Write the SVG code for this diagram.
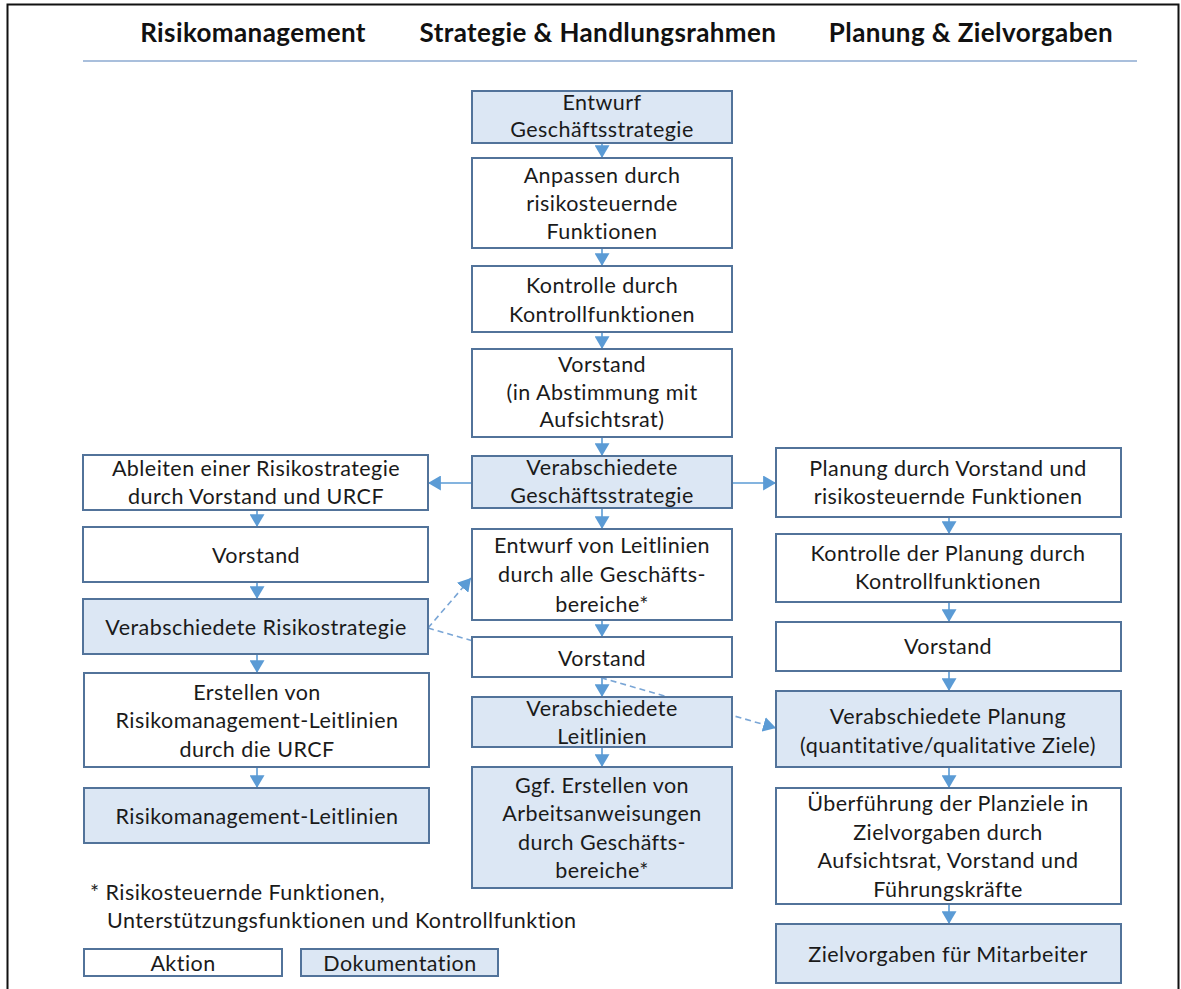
<svg xmlns="http://www.w3.org/2000/svg" width="1181" height="989" viewBox="0 0 1181 989" xml:space="preserve">
  <style>
    .box { stroke: #52739a; stroke-width: 2; }
    .act { fill: #ffffff; }
    .doc { fill: #dce7f4; }
    text { font-family: Lato, "Liberation Sans", sans-serif; font-size: 21.5px; letter-spacing: 0.45px; fill: #1a1a1a; text-anchor: middle; }
    .head { font-weight: bold; font-size: 26px; letter-spacing: 0.4px; fill: #111111; }
    .note { text-anchor: start; }
    .flow { stroke: #5b9bd5; stroke-width: 1.6; fill: none; }
    .dash { stroke: #7aa6d6; stroke-width: 1.6; stroke-dasharray: 6 4; fill: none; }
  </style>
  <defs>
    <marker id="tri" viewBox="0 0 12 14" refX="12" refY="7" markerWidth="13" markerHeight="15" markerUnits="userSpaceOnUse" orient="auto">
      <path d="M0,0 L12,7 L0,14 z" fill="#5b9bd5"/>
    </marker>
  </defs>

  <rect width="1181" height="989" fill="#ffffff"/>
  <!-- outer frame (open at the bottom) -->
  <path d="M7.5,989 V4.5 H1178.5 V989" fill="none" stroke="#111111" stroke-width="2"/>

  <!-- column headings -->
  <g id="headings">
    <text class="head" x="253" y="42">Risikomanagement</text>
    <text class="head" x="598" y="42">Strategie &amp; Handlungsrahmen</text>
    <text class="head" x="971" y="42">Planung &amp; Zielvorgaben</text>
    <line x1="83" y1="61" x2="1137" y2="61" stroke="#a9bfdc" stroke-width="2"/>
  </g>

  <!-- connectors (drawn under the boxes) -->
  <g id="connectors">
    <!-- centre column -->
    <line class="flow" x1="602" y1="143" x2="602" y2="158" marker-end="url(#tri)"/>
    <line class="flow" x1="602" y1="248" x2="602" y2="266" marker-end="url(#tri)"/>
    <line class="flow" x1="602" y1="332" x2="602" y2="349" marker-end="url(#tri)"/>
    <line class="flow" x1="602" y1="437" x2="602" y2="456" marker-end="url(#tri)"/>
    <line class="flow" x1="602" y1="508" x2="602" y2="529" marker-end="url(#tri)"/>
    <line class="flow" x1="602" y1="620" x2="602" y2="637" marker-end="url(#tri)"/>
    <line class="flow" x1="602" y1="677" x2="602" y2="697" marker-end="url(#tri)"/>
    <line class="flow" x1="602" y1="747" x2="602" y2="767" marker-end="url(#tri)"/>
    <!-- left column -->
    <line class="flow" x1="257" y1="510" x2="257" y2="527" marker-end="url(#tri)"/>
    <line class="flow" x1="257" y1="582" x2="257" y2="599" marker-end="url(#tri)"/>
    <line class="flow" x1="257" y1="654" x2="257" y2="673" marker-end="url(#tri)"/>
    <line class="flow" x1="257" y1="767" x2="257" y2="788" marker-end="url(#tri)"/>
    <!-- right column -->
    <line class="flow" x1="949" y1="517" x2="949" y2="534" marker-end="url(#tri)"/>
    <line class="flow" x1="949" y1="602" x2="949" y2="622" marker-end="url(#tri)"/>
    <line class="flow" x1="949" y1="671" x2="949" y2="691" marker-end="url(#tri)"/>
    <line class="flow" x1="949" y1="767" x2="949" y2="788" marker-end="url(#tri)"/>
    <line class="flow" x1="949" y1="904" x2="949" y2="924" marker-end="url(#tri)"/>
    <!-- branches from the adopted business strategy -->
    <line class="flow" x1="472" y1="483" x2="428" y2="483" marker-end="url(#tri)"/>
    <line class="flow" x1="732" y1="483" x2="776" y2="483" marker-end="url(#tri)"/>
    <!-- dashed influences of the risk strategy -->
    <line class="dash" x1="428" y1="628" x2="471" y2="578" marker-end="url(#tri)"/>
    <line class="dash" x1="428" y1="628" x2="776" y2="728" marker-end="url(#tri)"/>
  </g>

  <!-- centre column -->
  <g id="entwurf-gs">
    <rect class="box doc" x="472" y="91" width="260" height="52"/>
    <text x="602" y="110">Entwurf</text>
    <text x="602" y="137">Geschäftsstrategie</text>
  </g>
  <g id="anpassen">
    <rect class="box act" x="472" y="158" width="260" height="90"/>
    <text x="602" y="183">Anpassen durch</text>
    <text x="602" y="211">risikosteuernde</text>
    <text x="602" y="239">Funktionen</text>
  </g>
  <g id="kontrolle">
    <rect class="box act" x="472" y="266" width="260" height="66"/>
    <text x="602" y="293">Kontrolle durch</text>
    <text x="602" y="322">Kontrollfunktionen</text>
  </g>
  <g id="vorstand-ar">
    <rect class="box act" x="472" y="349" width="260" height="88"/>
    <text x="602" y="372">Vorstand</text>
    <text x="602" y="400">(in Abstimmung mit</text>
    <text x="602" y="427">Aufsichtsrat)</text>
  </g>
  <g id="verab-gs">
    <rect class="box doc" x="472" y="456" width="260" height="52"/>
    <text x="602" y="475">Verabschiedete</text>
    <text x="602" y="503">Geschäftsstrategie</text>
  </g>
  <g id="entwurf-leitlinien">
    <rect class="box act" x="472" y="529" width="260" height="91"/>
    <text x="602" y="553">Entwurf von Leitlinien</text>
    <text x="602" y="582">durch alle  Geschäfts-</text>
    <text x="602" y="612">bereiche*</text>
  </g>
  <g id="vorstand-mitte">
    <rect class="box act" x="472" y="637" width="260" height="40"/>
    <text x="602" y="666">Vorstand</text>
  </g>
  <g id="verab-leitlinien">
    <rect class="box doc" x="472" y="697" width="260" height="50"/>
    <text x="602" y="716">Verabschiedete</text>
    <text x="602" y="744">Leitlinien</text>
  </g>
  <g id="arbeitsanweisungen">
    <rect class="box doc" x="472" y="767" width="260" height="121"/>
    <text x="602" y="793">Ggf. Erstellen von</text>
    <text x="602" y="821">Arbeitsanweisungen</text>
    <text x="602" y="850">durch Geschäfts-</text>
    <text x="602" y="878">bereiche*</text>
  </g>

  <!-- left column -->
  <g id="ableiten">
    <rect class="box act" x="83" y="455" width="345" height="55"/>
    <text x="256" y="476">Ableiten einer Risikostrategie</text>
    <text x="256" y="504">durch Vorstand und URCF</text>
  </g>
  <g id="vorstand-links">
    <rect class="box act" x="83" y="527" width="345" height="55"/>
    <text x="256" y="563">Vorstand</text>
  </g>
  <g id="verab-risikostrategie">
    <rect class="box doc" x="83" y="599" width="345" height="55"/>
    <text x="256" y="635">Verabschiedete  Risikostrategie</text>
  </g>
  <g id="erstellen-rm">
    <rect class="box act" x="84" y="673" width="345" height="94"/>
    <text x="257" y="700">Erstellen  von</text>
    <text x="257" y="728">Risikomanagement-Leitlinien</text>
    <text x="257" y="757">durch die URCF</text>
  </g>
  <g id="rm-leitlinien">
    <rect class="box doc" x="84" y="788" width="345" height="55"/>
    <text x="257" y="824">Risikomanagement-Leitlinien</text>
  </g>

  <!-- right column -->
  <g id="planung">
    <rect class="box act" x="776" y="448" width="345" height="69"/>
    <text x="948" y="476">Planung durch Vorstand und</text>
    <text x="948" y="504">risikosteuernde  Funktionen</text>
  </g>
  <g id="kontrolle-planung">
    <rect class="box act" x="776" y="534" width="345" height="68"/>
    <text x="948" y="561">Kontrolle der Planung durch</text>
    <text x="948" y="589">Kontrollfunktionen</text>
  </g>
  <g id="vorstand-rechts">
    <rect class="box act" x="776" y="622" width="345" height="49"/>
    <text x="948" y="654">Vorstand</text>
  </g>
  <g id="verab-planung">
    <rect class="box doc" x="776" y="691" width="345" height="76"/>
    <text x="948" y="724">Verabschiedete  Planung</text>
    <text x="948" y="753">(quantitative/qualitative  Ziele)</text>
  </g>
  <g id="ueberfuehrung">
    <rect class="box act" x="776" y="788" width="345" height="116"/>
    <text x="948" y="811">Überführung der Planziele in</text>
    <text x="948" y="840">Zielvorgaben  durch</text>
    <text x="948" y="868">Aufsichtsrat, Vorstand und</text>
    <text x="948" y="897">Führungskräfte</text>
  </g>
  <g id="zielvorgaben">
    <rect class="box doc" x="776" y="924" width="345" height="59"/>
    <text x="948" y="962">Zielvorgaben für Mitarbeiter</text>
  </g>

  <!-- footnote and legend -->
  <g id="footnote">
    <text class="note" x="90" y="900">* Risikosteuernde  Funktionen,</text>
    <text class="note" x="107" y="928">Unterstützungsfunktionen  und Kontrollfunktion</text>
  </g>
  <g id="legend-aktion">
    <rect class="box act" x="84" y="949" width="198" height="27"/>
    <text x="183" y="971">Aktion</text>
  </g>
  <g id="legend-dokumentation">
    <rect class="box doc" x="301" y="949" width="197" height="27"/>
    <text x="400" y="971">Dokumentation</text>
  </g>
</svg>
